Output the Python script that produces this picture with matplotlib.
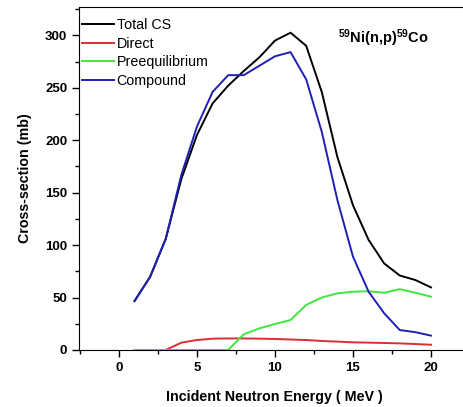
import matplotlib
matplotlib.use('Agg')
import matplotlib.pyplot as plt
from matplotlib.ticker import MultipleLocator

plt.rcParams['font.family'] = ['Liberation Sans', 'DejaVu Sans']
plt.rcParams['mathtext.default'] = 'regular'

energia = [1, 2, 3, 4, 5, 6, 7, 8, 9, 10, 11, 12, 13, 14, 15, 16, 17, 18, 19, 20]
total_cs = [46.7, 69.8, 106, 163, 205, 235, 252, 266, 279, 295, 302.5, 290, 246, 184,
            138, 105, 82.5, 71, 66.7, 59.7]
direct = [0, 0, 0, 7, 9.5, 10.8, 11, 11, 10.8, 10.5, 10, 9.5, 8.6, 8, 7.3, 7, 6.7, 6.3, 5.7, 5]
preeq = [0, 0, 0, 0, 0, 0, 0, 15, 20.6, 24.8, 28.6, 43, 50, 54, 55.6, 56, 54.6, 58, 54.6, 50.8]
compound = [46.7, 69.8, 106, 167, 213, 246, 262, 262, 271, 280, 284, 258, 208, 143,
            89, 55.6, 35, 19, 17, 13.7]

direct_x = energia[2:]
direct_y = direct[2:]

fig = plt.figure(figsize=(4.63, 4.07), dpi=100)
ax = fig.add_axes([79 / 463, 57 / 407, 391 / 463, 343 / 407])

ax.plot(energia, total_cs, color='black', lw=1.4, label='Total CS')
ax.plot(direct_x, direct_y, color='#d83030', lw=1.4, label='Direct')
ax.plot(energia, preeq, color='#3ee63e', lw=1.4, label='Preequilibrium')
ax.plot(energia, compound, color='#1f1fb5', lw=1.4, label='Compound')

ax.set_xlim(-2.56, 22.5)
ax.set_ylim(0, 327)
ax.xaxis.set_major_locator(MultipleLocator(5))
ax.xaxis.set_minor_locator(MultipleLocator(2.5))
ax.yaxis.set_major_locator(MultipleLocator(50))
ax.yaxis.set_minor_locator(MultipleLocator(25))
ax.tick_params(which='major', direction='out', length=5, width=1, labelsize=9.5)
ax.tick_params(which='minor', direction='out', length=3, width=1)
for lab in ax.get_xticklabels() + ax.get_yticklabels():
    lab.set_fontweight('bold')

ax.set_xlabel('Incident Neutron Energy ( MeV )', fontsize=10.25, fontweight='bold', labelpad=12)
ax.set_ylabel('Cross-section (mb)', fontsize=10.25, fontweight='bold', labelpad=9)

ax.legend(loc='upper left', frameon=False, fontsize=10.3, handlelength=2.3,
          handletextpad=0.15, labelspacing=0.33, borderaxespad=0.0,
          bbox_to_anchor=(-0.008, 0.985))

ax.text(338 / 463, 1 - 38 / 407, r'$^{59}$Ni(n,p)$^{59}$Co', transform=fig.transFigure,
        fontsize=10.5, fontweight='bold', va='center', ha='left')

fig.savefig('out.png', dpi=100)
